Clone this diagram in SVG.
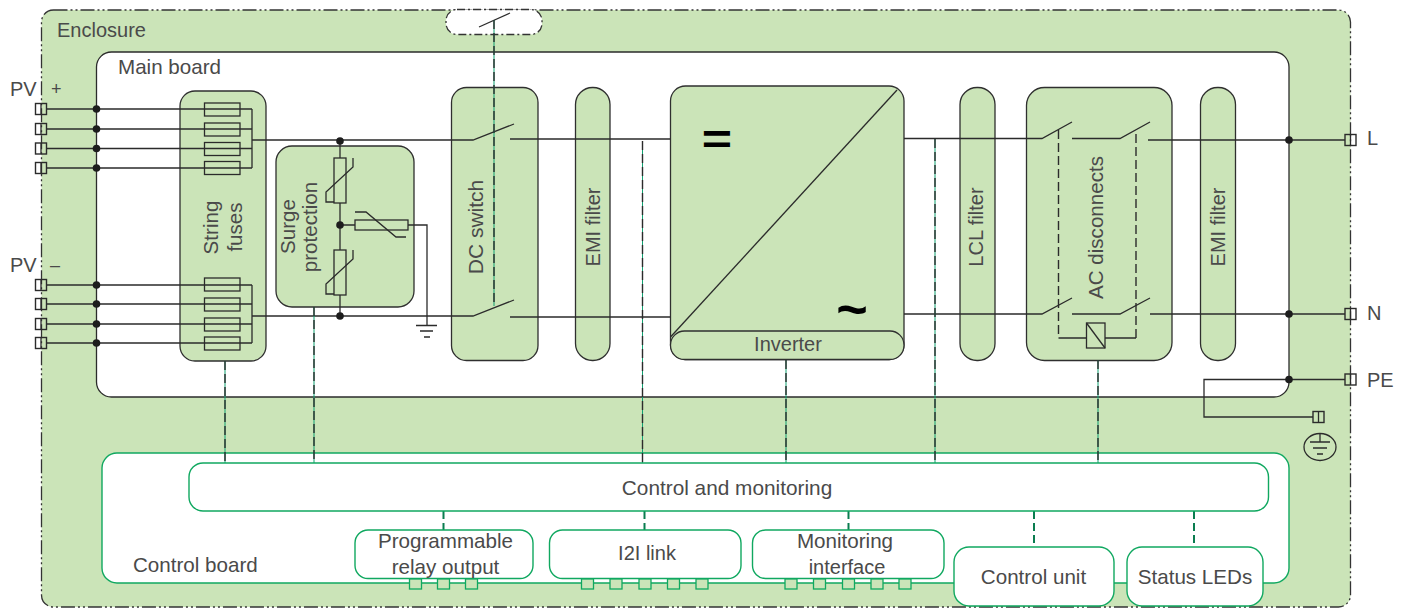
<svg xmlns="http://www.w3.org/2000/svg" width="1407" height="608" viewBox="0 0 1407 608">
<style>
text{font-family:"Liberation Sans",Arial,sans-serif;font-size:20.600px;fill:#4a4a4a;stroke:none}
.m{text-anchor:middle}
.n{font-size:20px}
.box{fill:#cbe4b8;stroke:#2f2f2f;stroke-width:1.3}
.g{fill:#fff;stroke:#10a860;stroke-width:1.4}
.s{fill:#cbe4b8;stroke:#10a860;stroke-width:1.3}
.l{fill:none;stroke:#2b2b2b;stroke-width:1.3}
.t{fill:none;stroke:#10a070;stroke-width:1}
.d{fill:none;stroke:#2b2b2b;stroke-width:1.4;stroke-dasharray:9 4}
.gd{fill:none;stroke:#0a7d50;stroke-width:2;stroke-dasharray:8 4}
.dd{fill:none;stroke-width:1.3;stroke-dasharray:14 3 2 3 2 3}
.p{fill:none;stroke:#2b2b2b;stroke-width:1.3}
.term{fill:#fff;fill-opacity:0;stroke:#2b2b2b;stroke-width:1.4}
</style>
<defs>
<circle id="dot" r="3.800" fill="#1d1d1d"/>
<g id="terminal"><rect class="term" x="-5.500" y="-5.500" width="11" height="11"/><path class="l" d="M0-5.500V5.500"/></g>
<rect id="sq" class="s" x="0" y="0" width="12" height="10"/>
</defs>

<g id="enclosure"><rect x="41.500" y="10" width="1309" height="597" rx="12" fill="#cbe4b8"/><rect class="dd" stroke="#333" x="41.500" y="10" width="1309" height="597" rx="12"/><text class="n" x="57" y="37">Enclosure</text></g>
<g id="main-board"><rect x="96.500" y="52" width="1192.500" height="345" rx="15" fill="#fff" stroke="#2b2b2b" stroke-width="1.3"/><text x="118" y="74">Main board</text></g>
<g id="handle"><rect x="446" y="9.500" width="96" height="25" rx="11" fill="#fff"/><rect class="dd" stroke="#333" x="446" y="9.500" width="96" height="25" rx="11" style="stroke-dasharray:8 3 2 3"/></g>

<g id="string-fuses"><rect class="box" x="180" y="91" width="86" height="270" rx="15"/>
<text class="m" transform="translate(218 227.500) rotate(-90)">String</text><text class="m" transform="translate(242 227) rotate(-90)">fuses</text>
<g class="p"><rect x="204.500" y="103" width="35.500" height="13"/><rect x="204.500" y="123" width="35.500" height="13"/><rect x="204.500" y="142.500" width="35.500" height="13"/><rect x="204.500" y="161.500" width="35.500" height="13"/><rect x="204.500" y="278" width="35.500" height="13"/><rect x="204.500" y="298" width="35.500" height="13"/><rect x="204.500" y="318" width="35.500" height="13"/><rect x="204.500" y="337" width="35.500" height="13"/></g></g>
<g id="surge-protection"><rect class="box" x="276" y="146" width="138" height="161" rx="16"/>
<text class="m" transform="translate(295 226.500) rotate(-90)">Surge</text><text class="m" transform="translate(317 227) rotate(-90)">protection</text>
<g class="p"><rect x="334" y="158" width="12" height="45"/><rect x="334" y="250" width="12" height="45"/><rect x="355" y="220" width="53" height="10"/><path d="M353 158v9l-27 25v10h8M353 250v9l-27 25v10h8M355 212h11l30 25h10"/></g></g>
<g id="dc-switch"><rect class="box" x="451.500" y="87.500" width="86.500" height="273" rx="15"/><text class="m" transform="translate(483 227) rotate(-90)" style="font-size:21px">DC switch</text></g>
<g id="emi-filter-1"><rect class="box" x="575.500" y="87.500" width="34.500" height="273" rx="17"/><text class="m n" transform="translate(600 227) rotate(-90)">EMI filter</text></g>
<g id="inverter"><rect class="box" x="670.500" y="86" width="233.500" height="273.500" rx="15"/><path class="l" d="M670.500 337L897 90"/><rect class="box" x="670.500" y="331" width="233.500" height="28.500" rx="14"/><text class="m n" x="788" y="351">Inverter</text>
<text class="m" transform="translate(717 154) scale(1 .8)" style="font-size:52px;font-weight:700;fill:#000">=</text><text x="852" y="328" class="m" style="font-size:54px;font-weight:700;fill:#000">~</text></g>
<g id="lcl-filter"><rect class="box" x="960" y="87.500" width="35" height="273" rx="17"/><text class="m n" transform="translate(983 227) rotate(-90)">LCL filter</text></g>
<g id="ac-disconnects"><rect class="box" x="1026.500" y="87.500" width="145.500" height="273" rx="18"/><text class="m" transform="translate(1103 227.500) rotate(-90)">AC disconnects</text><rect class="p" x="1086.500" y="323" width="18.500" height="25"/><path class="l" d="M1086.500 323L1105 348"/></g>
<g id="emi-filter-2"><rect class="box" x="1200.500" y="87.500" width="35" height="273" rx="17"/><text class="m n" transform="translate(1225 227) rotate(-90)">EMI filter</text></g>

<g id="control-board"><rect class="g" x="102" y="453" width="1187" height="130" rx="15"/><text x="133" y="572">Control board</text></g>

<g id="connectors">
<g class="l">
<path d="M47 109H252M47 129H252M47 148.500H252M47 168H252M252 109V168M252 140H473L514 124M510 139H670.500"/>
<path d="M47 285H252M47 304H252M47 324H252M47 343H252M252 285V343M252 316H473L514 300M510 317H670.500"/>
<path d="M340 141V158M340 203V250M340 295V316M340 225H355M408 225H427V325M416 325.500H437M420 331H433M424 337H430"/>
<path d="M479 27L510 13"/>
<path d="M904 138.500H1042L1072 122M1072 138.500H1120L1150 122M1148 140H1345"/>
<path d="M904 314H1042L1072 298M1072 314H1120L1150 298M1150 314H1345"/>
<path d="M1058.500 338H1086.500M1105 338H1136"/>
<path d="M1345 379.500H1204V417H1313"/>
<ellipse cx="1320" cy="447" rx="16" ry="13.500"/><path d="M1320 434V442M1310 442H1330M1313 448H1327M1317 454H1323"/>
</g>
<g class="t"><path d="M494 20V306M642.500 141V463M935 139V463M225 361V463M314 307V463M786 360V463M1098 360V463"/></g>
<g class="d"><path d="M494 20V306M642.500 141V463M935 139V463M225 361V463M314 307V463M786 360V463M1098 360V463M1058.500 130V338M1136 134V338"/></g>
<g class="gd"><path d="M443.500 511V530M644.500 511V530M848.500 511V530M1034 511V547M1194 511V547"/></g>
<use href="#dot" x="96.500" y="109"/><use href="#dot" x="96.500" y="129"/><use href="#dot" x="96.500" y="148.500"/><use href="#dot" x="96.500" y="168"/>
<use href="#dot" x="96.500" y="285"/><use href="#dot" x="96.500" y="304"/><use href="#dot" x="96.500" y="324"/><use href="#dot" x="96.500" y="343"/>
<use href="#dot" x="340" y="141"/><use href="#dot" x="340" y="225"/><use href="#dot" x="340" y="316"/>
<use href="#dot" x="1289" y="140"/><use href="#dot" x="1289" y="314"/><use href="#dot" x="1289" y="379.500"/>
</g>

<g id="pv-terminals"><use href="#terminal" x="41" y="109"/><use href="#terminal" x="41" y="129"/><use href="#terminal" x="41" y="148.500"/><use href="#terminal" x="41" y="168"/><use href="#terminal" x="41" y="285"/><use href="#terminal" x="41" y="304"/><use href="#terminal" x="41" y="324"/><use href="#terminal" x="41" y="343"/>
<text class="n" x="10" y="96">PV</text><text x="51" y="95" style="font-size:18px">+</text><text class="n" x="10" y="272">PV</text><text x="50" y="271" style="font-size:18px">–</text></g>
<g id="ac-terminals"><use href="#terminal" x="1350.500" y="140"/><use href="#terminal" x="1350.500" y="314"/><use href="#terminal" x="1350.500" y="379.500"/><use href="#terminal" x="1318.500" y="417"/>
<text class="n" x="1367" y="145">L</text><text class="n" x="1367" y="320">N</text><text class="n" x="1367" y="387">PE</text></g>

<g id="control-and-monitoring"><rect class="g" x="189" y="463" width="1079.500" height="48" rx="14"/><text class="m" x="727" y="495" style="font-size:20.800px">Control and monitoring</text></g>
<g id="relay-output"><rect class="g" x="355" y="530" width="178" height="48.500" rx="13"/><text class="m" x="445.500" y="548">Programmable</text><text class="m" x="445.500" y="574">relay output</text>
<use href="#sq" x="409.500" y="579"/><use href="#sq" x="437.500" y="579"/><use href="#sq" x="465.500" y="579"/></g>
<g id="i2i-link"><rect class="g" x="549.500" y="530" width="191.500" height="48.500" rx="13"/><text class="m n" x="647" y="560">I2I link</text>
<use href="#sq" x="581.500" y="579"/><use href="#sq" x="610" y="579"/><use href="#sq" x="639" y="579"/><use href="#sq" x="667.500" y="579"/><use href="#sq" x="696" y="579"/></g>
<g id="monitoring-interface"><rect class="g" x="752.500" y="530" width="191.500" height="48.500" rx="13"/><text class="m" x="845" y="548">Monitoring</text><text class="m n" x="847" y="574">interface</text>
<use href="#sq" x="785" y="579"/><use href="#sq" x="813.500" y="579"/><use href="#sq" x="842.500" y="579"/><use href="#sq" x="871" y="579"/><use href="#sq" x="899" y="579"/></g>
<g id="control-unit"><rect class="g" x="954" y="547" width="160" height="59" rx="15"/><text class="m" x="1033.500" y="584">Control unit</text></g>
<g id="status-leds"><rect class="g" x="1127" y="547" width="136" height="59" rx="15"/><text class="m" x="1195" y="584">Status LEDs</text></g>
</svg>
